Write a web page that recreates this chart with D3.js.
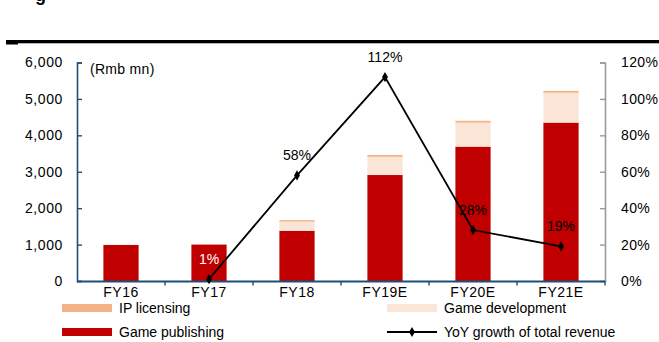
<!DOCTYPE html>
<html>
<head>
<meta charset="utf-8">
<script src="https://cdn.jsdelivr.net/npm/d3@7"></script>
<style>
  html, body { margin: 0; padding: 0; background: #fff; }
  svg { display: block; font-family: "Liberation Sans", Arial, sans-serif; }
</style>
</head>
<body>
<svg id="chart" width="659" height="342"></svg>
<script>
// Revenue breakdown (Rmb mn) and YoY growth of total revenue
const categories = ["FY16", "FY17", "FY18", "FY19E", "FY20E", "FY21E"];
const gamePublishing = [990, 1000, 1380, 2910, 3690, 4350];
const gameDevelopment = [0, 0, 250, 500, 660, 820];
const ipLicensing = [0, 0, 40, 50, 50, 50];
const yoyGrowth = [null, 1, 58, 112, 28, 19];
const leftTicks = [0, 1000, 2000, 3000, 4000, 5000, 6000];
const rightTicks = [0, 20, 40, 60, 80, 100, 120];

const colors = {
  publishing: "#C00000",
  development: "#FBE5D6",
  ip: "#F4B183",
  axisBlue: "#1F4E79",
  axisGrey: "#9A9A9A"
};

const svg = d3.select("#chart");
const plot = { left: 77, right: 605, top: 62.5, bottom: 281 };

const x = d3.scaleBand().domain(categories).range([plot.left, plot.right]).paddingInner(0.6).paddingOuter(0.3);
const xBand = d3.scaleBand().domain(categories).range([plot.left, plot.right]);
const yL = d3.scaleLinear().domain([0, 6000]).range([plot.bottom, plot.top]);
const yR = d3.scaleLinear().domain([0, 120]).range([plot.bottom, plot.top]);

// Header rule and cut-off title glyph
svg.append("text").attr("x", 35).attr("y", 0.5).attr("font-size", 18).attr("font-weight", "bold").text("g");
svg.append("rect").attr("x", 6).attr("y", 40).attr("width", 653).attr("height", 3.3).attr("fill", "#000");
svg.append("rect").attr("x", 6).attr("y", 43).attr("width", 12).attr("height", 1.5).attr("fill", "#000");

// Stacked bars
const rows = categories.map((c, i) => ({ cat: c, pub: gamePublishing[i], dev: gameDevelopment[i], ip: ipLicensing[i] }));
const stack = d3.stack().keys(["pub", "dev", "ip"])(rows);
const fills = { pub: colors.publishing, dev: colors.development, ip: colors.ip };
svg.append("g").selectAll("g").data(stack).join("g")
  .attr("fill", d => fills[d.key])
  .selectAll("rect").data(d => d).join("rect")
  .attr("x", d => x(d.data.cat))
  .attr("width", x.bandwidth())
  .attr("y", d => yL(d[1]))
  .attr("height", d => Math.max(0, yL(d[0]) - yL(d[1])));

// Left axis (Rmb mn)
const axL = svg.append("g").attr("transform", `translate(${plot.left},0)`)
  .call(d3.axisLeft(yL).tickValues(leftTicks).tickFormat(d3.format(",")).tickSizeInner(-5).tickSizeOuter(-5).tickPadding(14));
axL.select(".domain").attr("stroke", colors.axisBlue).attr("stroke-width", 1.6);
axL.selectAll(".tick line").attr("stroke", colors.axisBlue).attr("stroke-width", 1.4);
axL.selectAll("text").attr("font-size", 14).attr("fill", "#000").attr("letter-spacing", 0.6)
  .attr("font-family", "Liberation Sans, Arial, sans-serif");

// Right axis (%)
const axR = svg.append("g").attr("transform", `translate(${plot.right},0)`)
  .call(d3.axisRight(yR).tickValues(rightTicks).tickFormat(d => d + "%").tickSizeInner(-5).tickSizeOuter(-5).tickPadding(16));
axR.select(".domain").attr("stroke", colors.axisGrey).attr("stroke-width", 1.6);
axR.selectAll(".tick line").attr("stroke", colors.axisGrey).attr("stroke-width", 1.4);
axR.selectAll("text").attr("font-size", 14).attr("fill", "#000").attr("letter-spacing", 0.4)
  .attr("font-family", "Liberation Sans, Arial, sans-serif");

// Category axis with boundary ticks
const axX = svg.append("g").attr("transform", `translate(0,${plot.bottom})`)
  .call(d3.axisBottom(x).tickSize(0).tickPadding(6));
axX.select(".domain").attr("d", `M${plot.left},0.5H${plot.right}`).attr("stroke", colors.axisBlue).attr("stroke-width", 2);
axX.selectAll("text").attr("font-size", 14).attr("fill", "#000").attr("letter-spacing", 0.5)
  .attr("font-family", "Liberation Sans, Arial, sans-serif");
svg.append("g").selectAll("line").data(categories.slice(1).concat([null])).join("line")
  .attr("x1", (d, i) => xBand(categories[i]) + xBand.bandwidth())
  .attr("x2", (d, i) => xBand(categories[i]) + xBand.bandwidth())
  .attr("y1", plot.bottom).attr("y2", plot.bottom + 4.5)
  .attr("stroke", colors.axisBlue).attr("stroke-width", 1.4);

// Unit label
svg.append("text").attr("x", 90).attr("y", 74).attr("font-size", 14).attr("letter-spacing", 0.3).text("(Rmb mn)");

// YoY growth line
const pts = categories.map((c, i) => ({ cat: c, v: yoyGrowth[i] })).filter(d => d.v !== null);
const cx = d => x(d.cat) + x.bandwidth() / 2;
svg.append("path").datum(pts)
  .attr("fill", "none").attr("stroke", "#000").attr("stroke-width", 1.8)
  .attr("d", d3.line().x(cx).y(d => yR(d.v)));
svg.append("g").selectAll("path").data(pts).join("path")
  .attr("d", d3.symbol(d3.symbolDiamond, 30))
  .attr("transform", d => `translate(${cx(d)},${yR(d.v)})`)
  .attr("fill", "#000");
svg.append("g").selectAll("text").data(pts).join("text")
  .attr("x", cx).attr("y", d => yR(d.v) - 15)
  .attr("text-anchor", "middle").attr("font-size", 14)
  .attr("fill", d => d.v < 5 ? "#fff" : "#000")
  .text(d => d.v + "%");

// Legend
const legend = [
  { label: "IP licensing", type: "rect", color: colors.ip, x: 62, y: 308 },
  { label: "Game development", type: "rect", color: colors.development, x: 387, y: 308 },
  { label: "Game publishing", type: "rect", color: colors.publishing, x: 62, y: 332 },
  { label: "YoY growth of total revenue", type: "line", color: "#000", x: 387, y: 332 }
];
const lg = svg.append("g").selectAll("g").data(legend).join("g")
  .attr("transform", d => `translate(${d.x},${d.y})`);
lg.filter(d => d.type === "rect").append("rect")
  .attr("x", 0).attr("y", -4).attr("width", 50).attr("height", 8).attr("fill", d => d.color);
lg.filter(d => d.type === "line").append("line")
  .attr("x1", 0).attr("x2", 50).attr("y1", 0).attr("y2", 0).attr("stroke", "#000").attr("stroke-width", 1.8);
lg.filter(d => d.type === "line").append("path")
  .attr("d", d3.symbol(d3.symbolDiamond, 30)).attr("transform", "translate(25,0)").attr("fill", "#000");
lg.append("text").attr("x", 57).attr("y", 5).attr("font-size", 14).attr("fill", "#000").text(d => d.label);
</script>
</body>
</html>
